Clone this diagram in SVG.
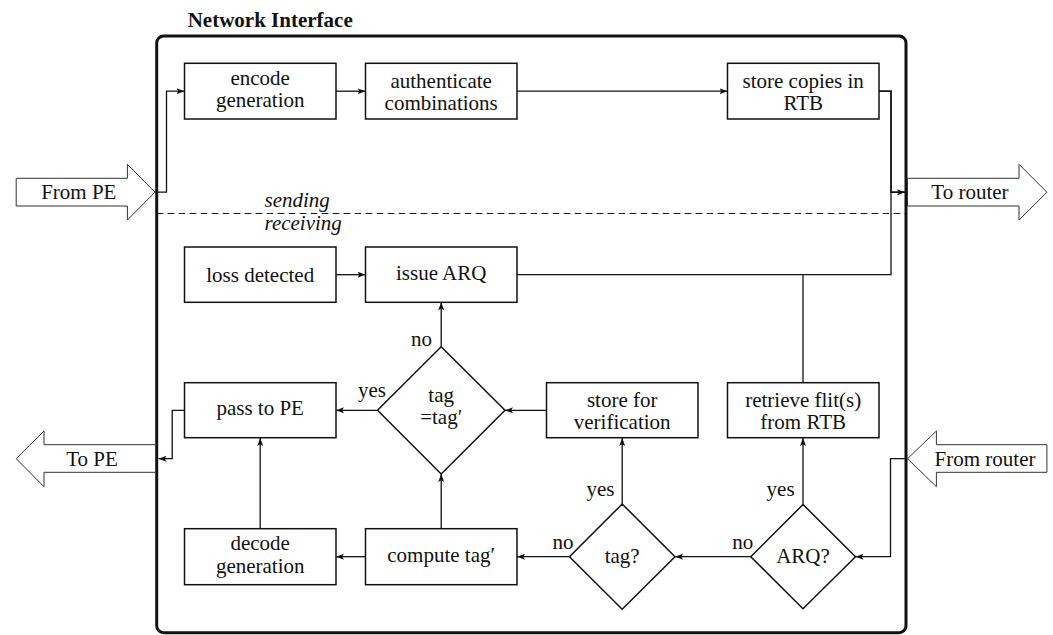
<svg xmlns="http://www.w3.org/2000/svg" width="1053" height="635" viewBox="0 0 1053 635">
<style>
text{font-family:"Liberation Serif","Times New Roman",serif;font-size:21px;fill:#111;}
.c{text-anchor:middle;}
.e{text-anchor:end;}
.it{font-style:italic;}
.box{fill:#fff;stroke:#111;stroke-width:1.5;}
.dia{fill:#fff;stroke:#111;stroke-width:1.5;}
.big{fill:#fff;stroke:#333;stroke-width:1;}
.con{fill:none;stroke:#111;stroke-width:1.3;}
.arr{marker-end:url(#ah);}
</style>
<defs>
<marker id="ah" markerUnits="userSpaceOnUse" markerWidth="9" markerHeight="7" refX="8" refY="3" orient="auto" viewBox="0 0 9 7">
<path d="M0,0 L8,3 L0,6 L1.8,3 z" fill="#111"/>
</marker>
</defs>

<text x="187.7" y="26.7" font-weight="bold" style="font-weight:bold">Network Interface</text>
<rect id="frame" x="156.7" y="36" width="749.3" height="596.7" rx="7" fill="none" stroke="#111" stroke-width="3"/>
<line x1="156.7" y1="213.5" x2="906" y2="213.5" stroke="#111" stroke-width="1.2" stroke-dasharray="6.5,4.5"/>
<text class="it" x="264.5" y="206.7">sending</text>
<text class="it" x="264.5" y="229.5">receiving</text>

<g id="from-pe">
<polygon class="big" points="16.2,178.3 127.4,178.3 127.4,164.3 155,192.2 127.4,220 127.4,206 16.2,206"/>
<text class="c" x="78.8" y="199.3">From PE</text>
</g>
<g id="to-router">
<polygon class="big" points="907.5,178.3 1019,178.3 1019,164.3 1046.9,192.2 1019,220 1019,206 907.5,206"/>
<text class="c" x="970" y="199.3">To router</text>
</g>
<g id="to-pe">
<polygon class="big" points="155.6,444.7 44,444.7 44,431 16.2,458.7 44,486.7 44,472.3 155.6,472.3"/>
<text class="c" x="92" y="465.5">To PE</text>
</g>
<g id="from-router">
<polygon class="big" points="1046.9,444.7 936.4,444.7 936.4,431 907.5,458.7 936.4,486.7 936.4,472.3 1046.9,472.3"/>
<text class="c" x="985" y="465.5">From router</text>
</g>

<g id="connectors">
<path class="con arr" d="M155,192.2 H166.5 V91.2 H184.5"/>
<path class="con arr" d="M336,91.2 H365.5"/>
<path class="con arr" d="M517,91.2 H727.5"/>
<path class="con arr" d="M879,91.2 H891 V192.2 H905" style="stroke-width:1.8"/>
<path class="con" d="M517,274.7 H891 V192.2"/>
<path class="con" d="M803,382.7 V274.7"/>
<path class="con arr" d="M336,274.7 H365.5"/>
<path class="con arr" d="M441.2,346.7 V302.3"/>
<path class="con arr" d="M377.5,410.3 H336"/>
<path class="con arr" d="M546.5,410.3 H505"/>
<path class="con arr" d="M441.2,528.7 V474"/>
<path class="con arr" d="M260.2,528.7 V438"/>
<path class="con arr" d="M365.5,556.7 H336"/>
<path class="con arr" d="M569.5,556.7 H517"/>
<path class="con arr" d="M622.2,504 V438"/>
<path class="con arr" d="M750.8,556.7 H675"/>
<path class="con arr" d="M803,504.5 V438"/>
<path class="con arr" d="M907.5,458.7 H890.5 V556.7 H855.5"/>
<path class="con arr" d="M184.5,410.3 H172.2 V458.7 H158.5"/>
<text class="e" x="432" y="346">no</text>
<text class="e" x="386" y="397">yes</text>
<text class="e" x="614.5" y="496">yes</text>
<text class="e" x="794.6" y="496">yes</text>
<text class="e" x="573.4" y="549.3">no</text>
<text class="e" x="753.2" y="549.3">no</text>
</g>

<g id="encode">
<rect class="box" x="184.5" y="63.3" width="151.5" height="55.7"/>
<text class="c" x="260.2" y="85">encode</text>
<text class="c" x="260.2" y="107.3">generation</text>
</g>
<g id="authenticate">
<rect class="box" x="365.5" y="63.3" width="151.5" height="55.7"/>
<text class="c" x="441.2" y="87.5">authenticate</text>
<text class="c" x="441.2" y="110">combinations</text>
</g>
<g id="store-copies">
<rect class="box" x="727.5" y="63.3" width="151.5" height="55.7"/>
<text class="c" x="803.2" y="87.5">store copies in</text>
<text class="c" x="803.2" y="110">RTB</text>
</g>
<g id="loss">
<rect class="box" x="184.5" y="247" width="151.5" height="55.3"/>
<text class="c" x="260.2" y="281.5">loss detected</text>
</g>
<g id="issue">
<rect class="box" x="365.5" y="247" width="151.5" height="55.3"/>
<text class="c" x="441.2" y="279.5">issue ARQ</text>
</g>
<g id="pass">
<rect class="box" x="184.5" y="382.7" width="151.5" height="55"/>
<text class="c" x="260.2" y="414.5">pass to PE</text>
</g>
<g id="store-verif">
<rect class="box" x="546.5" y="382.7" width="151.5" height="55"/>
<text class="c" x="622.2" y="407">store for</text>
<text class="c" x="622.2" y="429.3">verification</text>
</g>
<g id="retrieve">
<rect class="box" x="727.5" y="382.7" width="151.5" height="55"/>
<text class="c" x="803.2" y="407">retrieve flit(s)</text>
<text class="c" x="803.2" y="429.3">from RTB</text>
</g>
<g id="decode">
<rect class="box" x="184.5" y="528.7" width="151.5" height="56"/>
<text class="c" x="260.2" y="549.5">decode</text>
<text class="c" x="260.2" y="572.7">generation</text>
</g>
<g id="compute">
<rect class="box" x="365.5" y="528.7" width="151.5" height="56"/>
<text class="c" x="441.2" y="561.7">compute tag′</text>
</g>
<g id="cmp-tag">
<polygon class="dia" points="441.2,346.7 505,410.3 441.2,474 377.5,410.3"/>
<text class="c" x="441.2" y="402.3">tag</text>
<text class="c" x="441.2" y="424">=tag′</text>
</g>
<g id="tag-q">
<polygon class="dia" points="622.2,504 675,556.7 622.2,609.3 569.5,556.7"/>
<text class="c" x="622.2" y="562.7">tag?</text>
</g>
<g id="arq-q">
<polygon class="dia" points="803,504.5 855.5,556.7 803,608.8 750.8,556.7"/>
<text class="c" x="803" y="562.7">ARQ?</text>
</g>
</svg>
